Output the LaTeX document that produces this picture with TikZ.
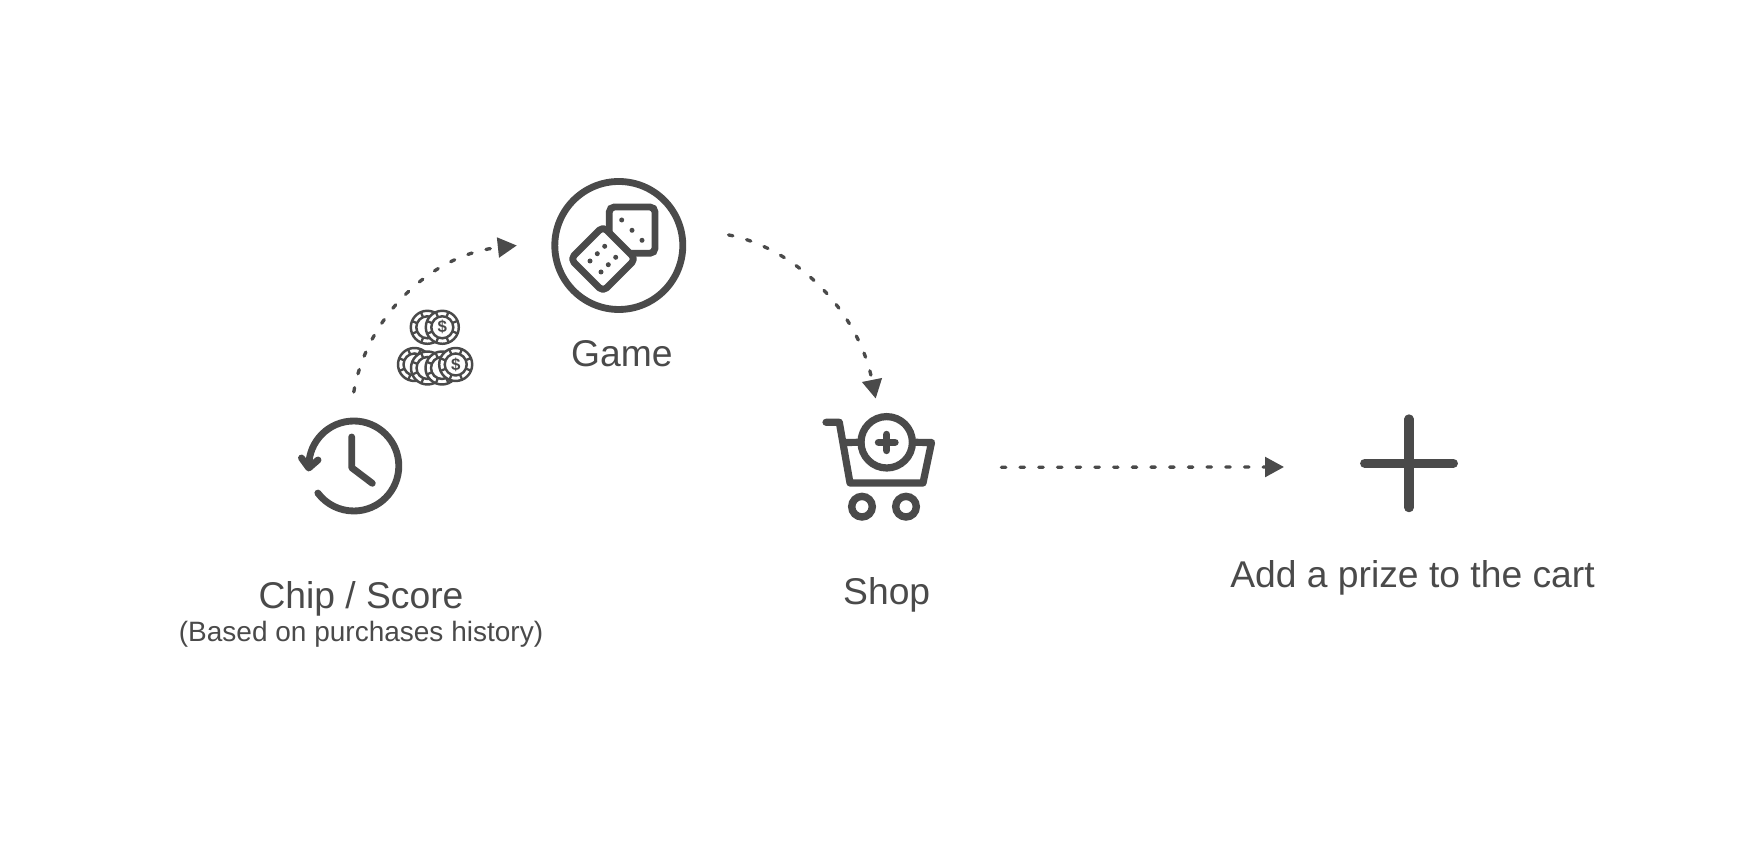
\documentclass[tikz,border=0pt]{standalone}
\usepackage{fontspec}
\setmainfont{Liberation Sans}
\usepackage{xcolor}
\usetikzlibrary{calc, arrows.meta, positioning}
\definecolor{inkgray}{HTML}{4A4A4A}

\begin{document}
\begin{tikzpicture}[
        x=0.1mm, y=-0.1mm,
        icon/.style={
            draw=inkgray,
            line width=1.95pt,
            line cap=round,
            line join=round
        },
        anchorbox/.style={
            circle,
            inner sep=0pt,
            outer sep=0pt
        },
        flow/.style={
            draw=inkgray,
            line width=0.95pt,
            line cap=round,
            dash pattern=on 1.25pt off 4.07pt,
            -{Triangle[length=5.4pt, width=5.6pt]}
        },
        biglbl/.style={
            text=inkgray,
            inner sep=0pt,
            font=\fontsize{10.6}{12}\selectfont,
            anchor=base
        },
        smalllbl/.style={
            text=inkgray,
            inner sep=0pt,
            font=\fontsize{7.97}{10}\selectfont,
            anchor=base
        },
        chipsign/.style={
            text=inkgray,
            inner sep=0pt,
            font=\fontsize{4.8}{5}\bfseries\selectfont
        },
        chip/.pic={
            \draw[draw=inkgray, fill=white, line width=0.7pt] (0,0) circle[radius=16.5];
            \draw[draw=inkgray, line width=0.7pt] (0,0) circle[radius=11];
            \foreach \a in {22,67,...,337} {
                \draw[draw=inkgray, line width=0.65pt] (\a:11) -- (\a:16.5);
            }
        }
    ]

        \useasboundingbox (0,0) rectangle (1742,846);

        % clock
        \node[anchorbox, minimum size=9.6mm] (clock) at (353.8,466) {};
        \draw[icon] (308.8,466) arc[start angle=180, end angle=503, radius=45];
        \draw[icon] (301.5,458) -- (308.8,468) -- (318,460);
        \draw[icon] (351.7,437) -- (351.7,467.7) -- (372.3,483.3);

        % dice
        \draw[icon, rounded corners=0.5mm, line join=miter] (609.3,207) rectangle (655,253.3);
        \draw[icon, fill=white, rounded corners=0.5mm] (570.5,259) -- (603,226.5) -- (635.5,259) -- (603,291.5) -- cycle;
        \fill[inkgray] (621.7,220) circle[radius=2.5] (632,230.3) circle[radius=2.5] (642,240.3) circle[radius=2.5];
        \fill[inkgray] (604.7,246.3) circle[radius=2.5] (597.3,253.7) circle[radius=2.5] (590,261) circle[radius=2.5]
            (615.7,257.3) circle[radius=2.5] (608.3,264.7) circle[radius=2.5] (601,272) circle[radius=2.5];
        \node[anchorbox, draw=inkgray, line width=1.95pt, minimum size=12.8mm] (game) at (618.8,245.5) {};

        % chips
        \pic at (427.3,327.3) {chip};
        \pic at (442.3,327.3) {chip};
        \pic at (414.5,364.5) {chip};
        \pic at (427.5,368) {chip};
        \pic at (442,368) {chip};
        \pic at (455.7,364.5) {chip};
        \node[chipsign] (signTop) at (442.3,327.3) {\$};
        \node[chipsign] (signBottom) at (455.7,364.5) {\$};

        % cart
        \node[anchorbox, draw=inkgray, line width=2.05pt, minimum size=5.14mm] (shop) at (886.7,442.3) {};
        \draw[icon, line width=2.05pt] (826,422.3) -- (839.3,422.3) -- (850,483) -- (923,483) -- (931.5,442.5) -- (shop.east);
        \draw[icon, line width=2.05pt] (844.3,442.5) -- (shop.west);
        \draw[icon, line width=2.1pt] (878.5,442.3) -- (895,442.3);
        \draw[icon, line width=2.1pt] (886.7,434.5) -- (886.7,450.5);
        \node[anchorbox, draw=inkgray, line width=2.1pt, minimum size=2.06mm] (wheelLeft) at (862,506.7) {};
        \node[anchorbox, draw=inkgray, line width=2.1pt, minimum size=2.06mm] (wheelRight) at (906,506.7) {};

        % plus
        \node[anchorbox, minimum size=8.86mm] (plus) at (1409,463.3) {};
        \draw[icon, line width=2.65pt] (plus.west) -- (plus.east);
        \draw[icon, line width=2.65pt] (plus.north) -- (plus.south);

        % labels
        \node[biglbl, below=14.3mm of clock.center, anchor=base, xshift=0.72mm] (chipLbl) {Chip / Score};
        \node[smalllbl, below=3.3mm of chipLbl.base, anchor=base] (chipSub) {(Based on purchases history)};
        \node[biglbl, below=12.15mm of game.center, anchor=base, xshift=0.3mm] (gameLbl) {Game};
        \node[biglbl, below=16.2mm of shop.center, anchor=base] (shopLbl) {Shop};
        \node[biglbl, below=12.4mm of plus.center, anchor=base, xshift=0.35mm] (plusLbl) {Add a prize to the cart};

        % arrows
        \draw[flow] ([yshift=2.6mm]clock.north) .. controls (366,320) and (428,255) .. ([xshift=-3.8mm]game.west);
        \draw[flow] ([shift={(46,-5)}]game.5) .. controls (795,248) and (858,310) .. ([shift={(-11,-18)}]shop.north);
        \draw[flow] ([shift={(89,25)}]shop.east) -- ([shift={(-80.7,3.7)}]plus.west);

    \end{tikzpicture}
\end{document}
